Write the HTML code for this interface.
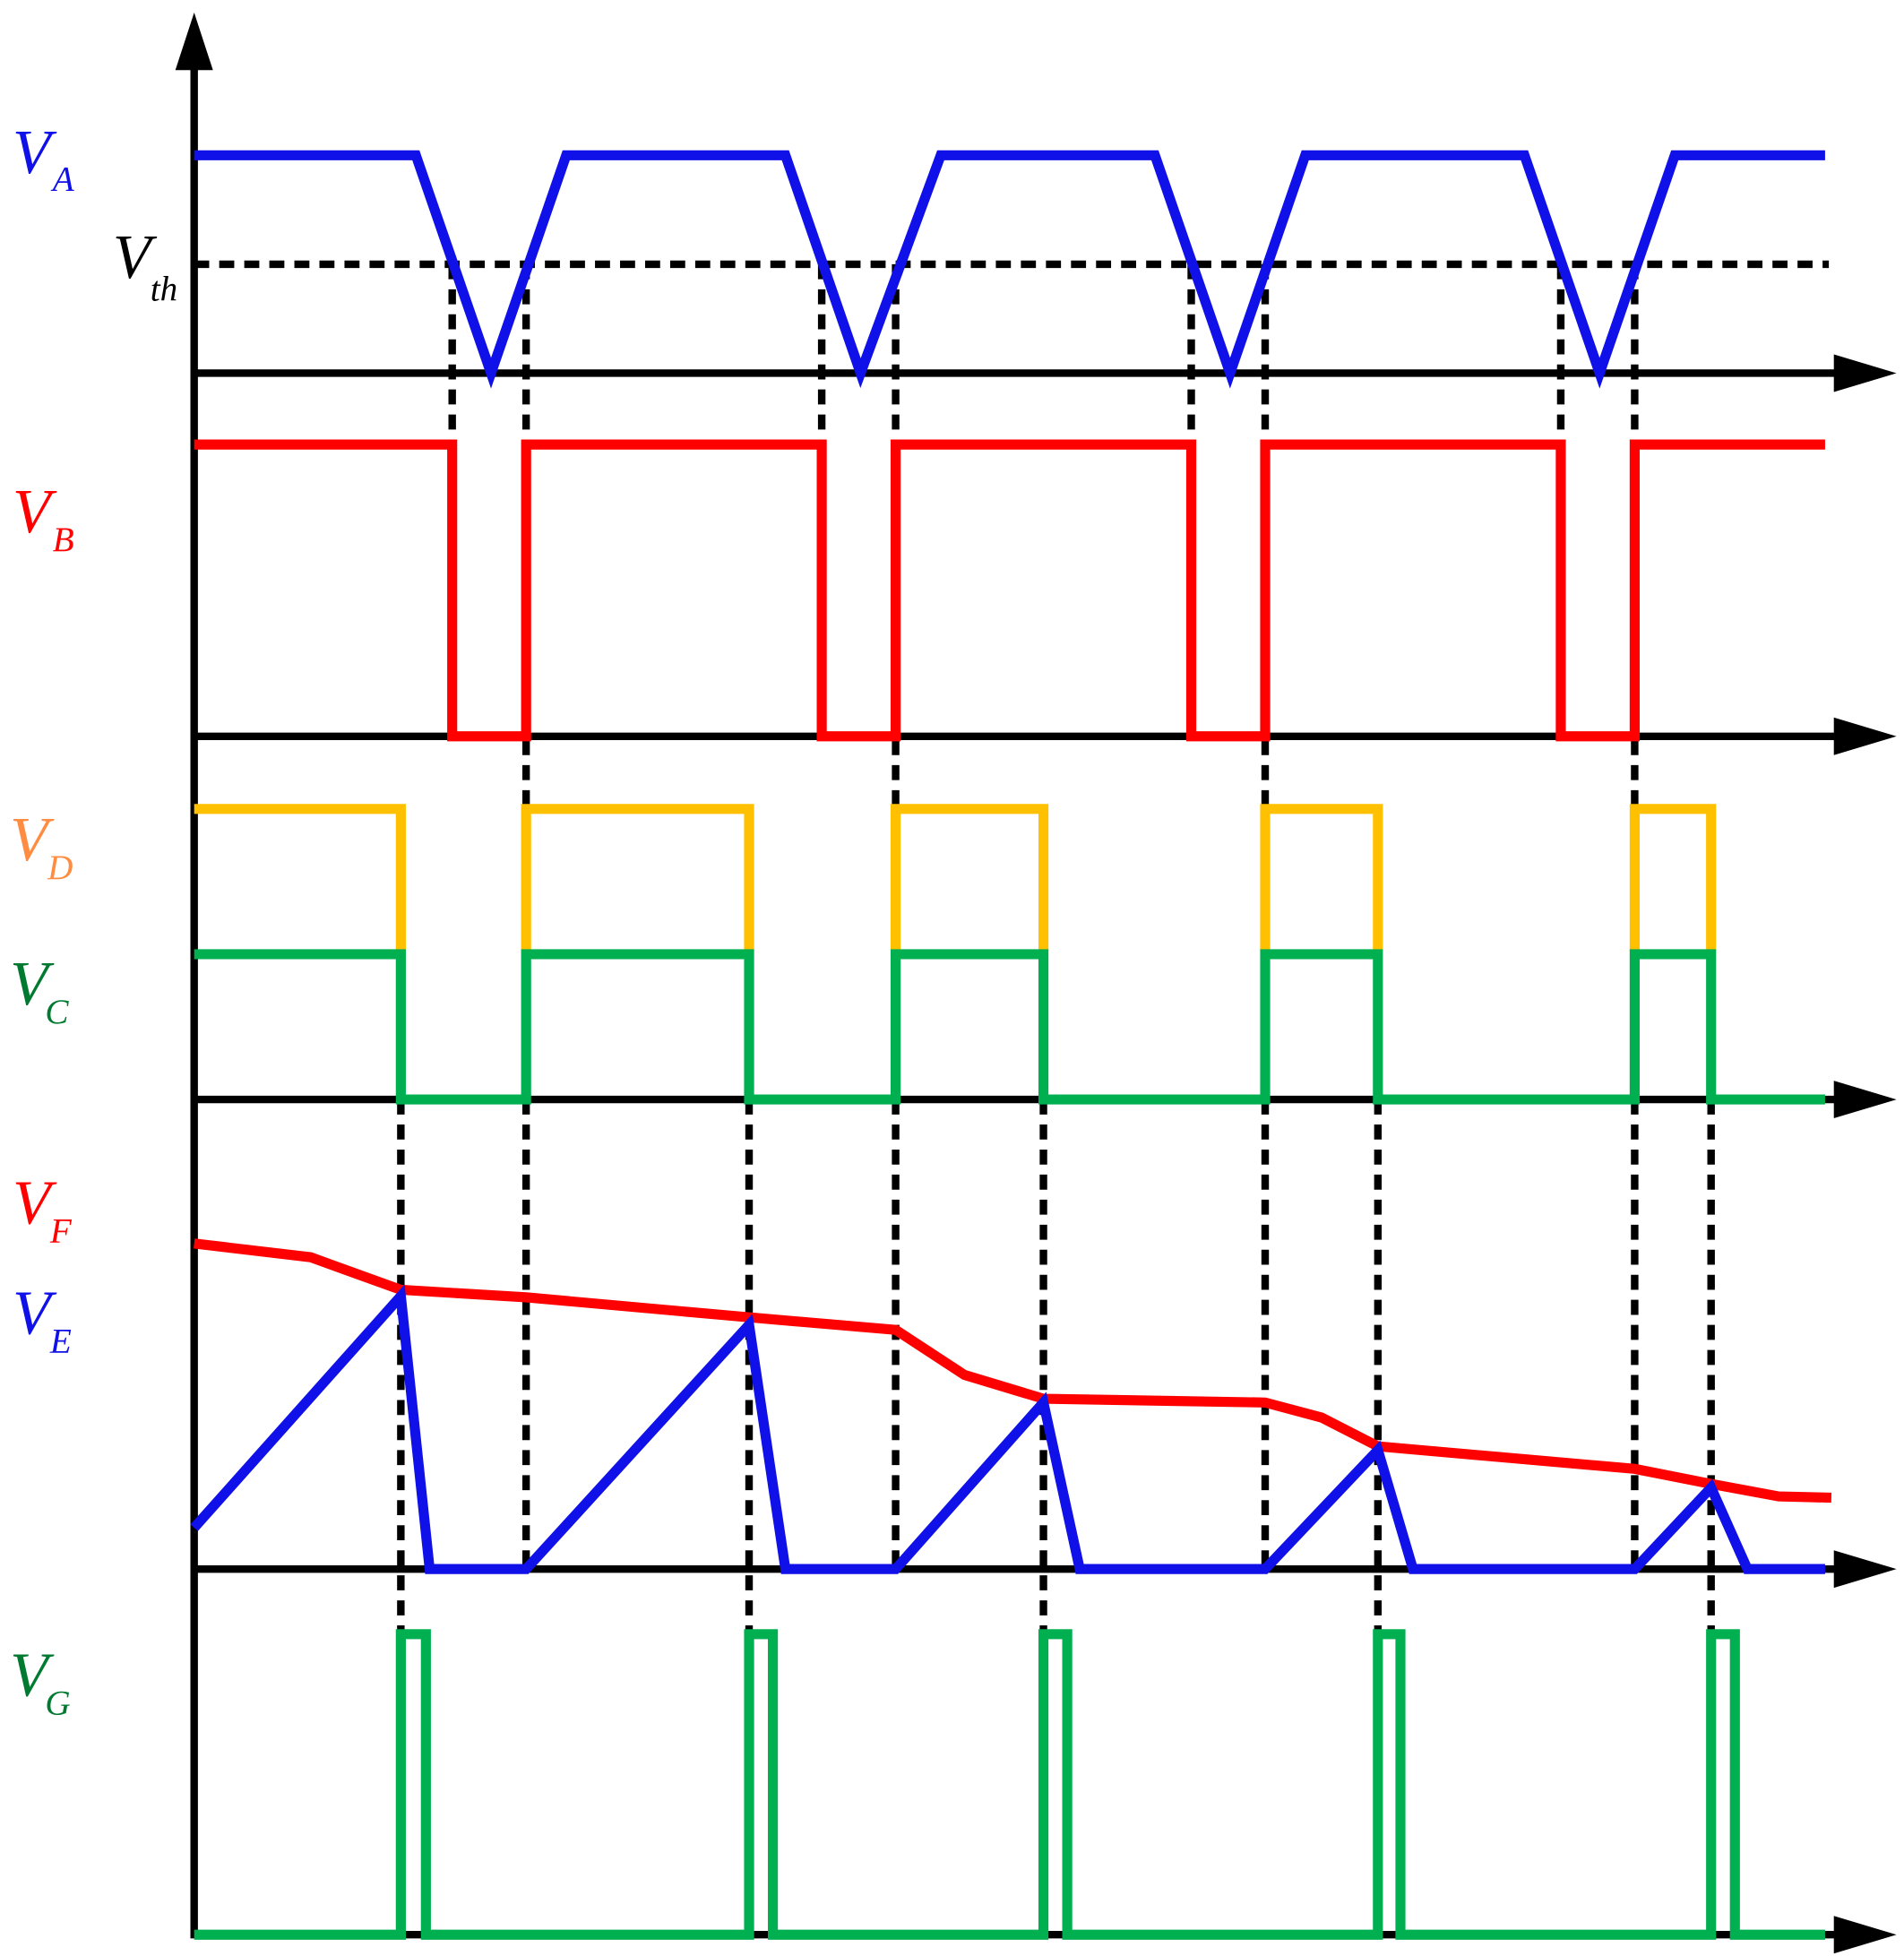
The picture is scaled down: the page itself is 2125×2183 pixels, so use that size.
<!DOCTYPE html>
<html><head><meta charset="utf-8"><style>
html,body{margin:0;padding:0;background:#fff;}
svg{display:block;}
text{font-family:"Liberation Serif",serif;font-style:italic;}
</style></head><body>
<svg width="2125" height="2183" viewBox="0 0 1520 1562" preserveAspectRatio="none" xmlns="http://www.w3.org/2000/svg">
<g stroke="#000" stroke-width="6" fill="none">
<line x1="155" y1="40" x2="155" y2="1548"/>
<line x1="155" y1="298" x2="1475" y2="298"/>
<line x1="155" y1="588" x2="1475" y2="588"/>
<line x1="155" y1="878" x2="1475" y2="878"/>
<line x1="155" y1="1253" x2="1475" y2="1253"/>
<line x1="155" y1="1545" x2="1475" y2="1545"/>
</g>
<g fill="#000">
<polygon points="140,56 155,10 170,56"/>
<polygon points="1464,283 1514,298 1464,313"/>
<polygon points="1464,573 1514,588 1464,603"/>
<polygon points="1464,863 1514,878 1464,893"/>
<polygon points="1464,1238 1514,1253 1464,1268"/>
<polygon points="1464,1530 1514,1545 1464,1560"/>
</g>
<g stroke="#000" stroke-width="6" stroke-dasharray="12,8" fill="none">
<line x1="155" y1="211" x2="1460" y2="211"/>
<line x1="361" y1="211" x2="361" y2="588"/>
<line x1="420" y1="211" x2="420" y2="645"/>
<line x1="656" y1="211" x2="656" y2="588"/>
<line x1="715" y1="211" x2="715" y2="645"/>
<line x1="951" y1="211" x2="951" y2="588"/>
<line x1="1010" y1="211" x2="1010" y2="645"/>
<line x1="1246" y1="211" x2="1246" y2="588"/>
<line x1="1305" y1="211" x2="1305" y2="645"/>
<line x1="320" y1="878" x2="320" y2="1305"/>
<line x1="420" y1="878" x2="420" y2="1253"/>
<line x1="598" y1="878" x2="598" y2="1305"/>
<line x1="715" y1="878" x2="715" y2="1253"/>
<line x1="833" y1="878" x2="833" y2="1305"/>
<line x1="1010" y1="878" x2="1010" y2="1253"/>
<line x1="1100" y1="878" x2="1100" y2="1305"/>
<line x1="1305" y1="878" x2="1305" y2="1253"/>
<line x1="1366" y1="878" x2="1366" y2="1305"/>
</g>
<g fill="none" stroke-width="8" stroke-linejoin="miter">
<polyline stroke="#1010E8" points="155,124 332,124 392,298 452,124 627,124 687,298 751,124 922,124 982,298 1042,124 1217,124 1277,298 1337,124 1457,124"/>
<polyline stroke="#FF0000" points="155,355 361,355 361,588 420,588 420,355 656,355 656,588 715,588 715,355 951,355 951,588 1010,588 1010,355 1246,355 1246,588 1305,588 1305,355 1457,355"/>
<polyline stroke="#FFC000" points="155,646 320,646 320,760"/>
<polyline stroke="#FFC000" points="420,760 420,646 598,646 598,760"/>
<polyline stroke="#FFC000" points="715,760 715,646 833,646 833,760"/>
<polyline stroke="#FFC000" points="1010,760 1010,646 1100,646 1100,760"/>
<polyline stroke="#FFC000" points="1305,760 1305,646 1366,646 1366,760"/>
<polyline stroke="#00B050" points="155,762 320,762 320,878 420,878 420,762 598,762 598,878 715,878 715,762 833,762 833,878 1010,878 1010,762 1100,762 1100,878 1305,878 1305,762 1366,762 1366,878 1457,878"/>
<polyline stroke="#FF0000" points="155,993 248,1004 320,1030 420,1036 598,1052 715,1062 770,1098 833,1117 1010,1120 1055,1132 1100,1155 1305,1173 1366,1185 1420,1195 1462,1196"/>
<polyline stroke="#1010E8" points="155,1220 320,1035 343,1253 420,1253 598,1058 627,1253 715,1253 833,1120 862,1253 1010,1253 1100,1158 1128,1253 1305,1253 1366,1188 1395,1253 1457,1253"/>
<polyline stroke="#00B050" points="155,1545 320,1545 320,1305 340,1305 340,1545 598,1545 598,1305 617,1305 617,1545 833,1545 833,1305 852,1305 852,1545 1100,1545 1100,1305 1118,1305 1118,1545 1366,1545 1366,1305 1385,1305 1385,1545 1457,1545"/>
</g>
<g font-size="50">
<text x="10" y="138" fill="#1010E8">V</text><text x="42" y="152" font-size="28" fill="#1010E8">A</text>
<text x="90" y="222" fill="#000">V</text><text x="120" y="240" font-size="28" fill="#000">th</text>
<text x="10" y="425" fill="#FF0000">V</text><text x="42" y="440" font-size="28" fill="#FF0000">B</text>
<text x="8" y="687" fill="#FF8C40">V</text><text x="38" y="702" font-size="28" fill="#FF8C40">D</text>
<text x="8" y="802" fill="#007A30">V</text><text x="36" y="817" font-size="28" fill="#007A30">C</text>
<text x="10" y="977" fill="#FF0000">V</text><text x="40" y="992" font-size="28" fill="#FF0000">F</text>
<text x="10" y="1065" fill="#1010E8">V</text><text x="40" y="1080" font-size="28" fill="#1010E8">E</text>
<text x="8" y="1354" fill="#007A30">V</text><text x="36" y="1369" font-size="28" fill="#007A30">G</text>
</g>
</svg>
</body></html>
